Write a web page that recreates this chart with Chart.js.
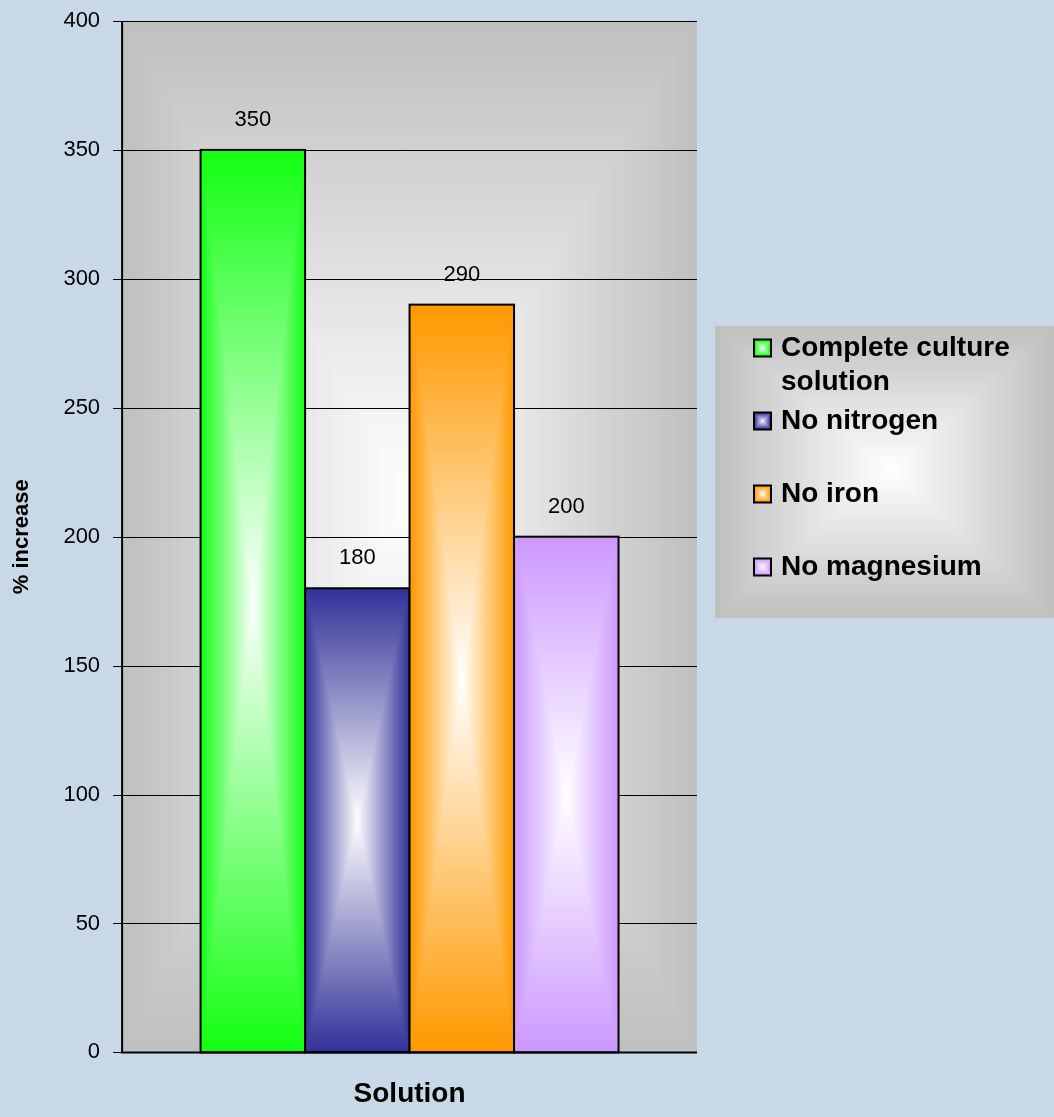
<!DOCTYPE html>
<html>
<head>
<meta charset="utf-8">
<script src="https://cdn.jsdelivr.net/npm/chart.js@4.4.0/dist/chart.umd.min.js"></script>
<style>
  html, body { margin: 0; padding: 0; background: #c8d8e6; }
  #wrap { width: 1054px; height: 1117px; }
</style>
</head>
<body>
<div id="wrap"><canvas id="chart" width="1054" height="1117"></canvas></div>
<script>
// --- data ---
const seriesNames = ['Complete culture solution', 'No nitrogen', 'No iron', 'No magnesium'];
const seriesValues = [350, 180, 290, 200];
const seriesColors = ['#14ff14', '#333399', '#ff9900', '#cc99ff'];
const categories = [''];
const yTicks = [0, 50, 100, 150, 200, 250, 300, 350, 400];

// --- helpers ---
function hexToRgb(hex) {
    const n = parseInt(hex.slice(1), 16);
    return [(n >> 16) & 255, (n >> 8) & 255, n & 255];
}

// nested rectangles going from the outer colour at the edge to the inner colour at (cx, cy)
function centerGradient(ctx, left, top, right, bottom, cx, cy, outer, inner, steps) {
    const a = hexToRgb(outer), b = hexToRgb(inner);
    for (let k = 0; k <= steps; k++) {
        const t = k / steps;
        const c = a.map((v, i) => Math.round(v + (b[i] - v) * t));
        ctx.fillStyle = `rgb(${c[0]},${c[1]},${c[2]})`;
        const l = left + (cx - left) * t, r = right - (right - cx) * t;
        const tp = top + (cy - top) * t, bt = bottom - (bottom - cy) * t;
        ctx.fillRect(l, tp, Math.max(r - l, 0.5), Math.max(bt - tp, 0.5));
    }
}

const plotBackground = {
    id: 'plotBackground',
    beforeDatasetsDraw(chart) {
        const { ctx, chartArea: a } = chart;
        ctx.save();
        centerGradient(ctx, a.left, a.top, a.right, a.bottom,
            (a.left + a.right) / 2, a.top + (a.bottom - a.top) * 0.46, '#c0c0c0', '#ffffff', 40);
        // grid lines with their tick marks
        const y = chart.scales.y;
        ctx.strokeStyle = '#000';
        ctx.lineWidth = 1;
        yTicks.forEach(v => {
            const py = Math.round(y.getPixelForValue(v)) + 0.5;
            ctx.beginPath();
            ctx.moveTo(a.left - 9, py);
            ctx.lineTo(a.right, py);
            ctx.stroke();
        });
        ctx.restore();
    }
};

const barPaint = {
    id: 'barPaint',
    afterDatasetsDraw(chart) {
        const { ctx, chartArea: a } = chart;
        ctx.save();
        chart.data.datasets.forEach((ds, i) => {
            const bar = chart.getDatasetMeta(i).data[0];
            const left = bar.x - bar.width / 2, right = bar.x + bar.width / 2;
            const top = bar.y, bottom = bar.base;
            centerGradient(ctx, left, top, right, bottom, (left + right) / 2, (top + bottom) / 2,
                seriesColors[i], '#ffffff', 60);
            ctx.strokeStyle = '#000';
            ctx.lineWidth = 2;
            ctx.strokeRect(left, top, right - left, bottom - top);
            // value label
            ctx.fillStyle = '#000';
            ctx.font = '22px "Liberation Sans", Arial, sans-serif';
            ctx.textAlign = 'center';
            ctx.textBaseline = 'middle';
            ctx.fillText(String(ds.data[0]), bar.x, top - 30);
        });
        // axis lines
        ctx.strokeStyle = '#000';
        ctx.lineWidth = 2;
        ctx.beginPath();
        ctx.moveTo(a.left, a.top);
        ctx.lineTo(a.left, a.bottom);
        ctx.lineTo(a.right, a.bottom);
        ctx.stroke();
        ctx.restore();
    }
};

function wrapText(ctx, text, maxWidth) {
    const words = text.split(' ');
    const lines = [];
    let line = '';
    words.forEach(w => {
        const test = line ? line + ' ' + w : w;
        if (ctx.measureText(test).width > maxWidth && line) {
            lines.push(line);
            line = w;
        } else {
            line = test;
        }
    });
    lines.push(line);
    return lines;
}

const sideLegend = {
    id: 'sideLegend',
    afterDraw(chart) {
        const { ctx } = chart;
        const box = { left: 715, top: 326, right: 1054, bottom: 618 };
        ctx.save();
        centerGradient(ctx, box.left, box.top, box.right, box.bottom, 890, 470, '#c0c0c0', '#ffffff', 30);
        ctx.font = 'bold 28px "Liberation Sans", Arial, sans-serif';
        ctx.textBaseline = 'middle';
        ctx.textAlign = 'left';
        chart.data.datasets.forEach((ds, i) => {
            const yTop = 348 + i * 73;
            const mx = 754, size = 17;
            centerGradient(ctx, mx, yTop - size / 2, mx + size, yTop + size / 2,
                mx + size / 2, yTop, seriesColors[i], '#ffffff', 8);
            ctx.strokeStyle = '#000';
            ctx.lineWidth = 2;
            ctx.strokeRect(mx, yTop - size / 2, size, size);
            ctx.fillStyle = '#000';
            wrapText(ctx, ds.label, 255).forEach((ln, j) => {
                ctx.fillText(ln, 781, yTop + j * 34);
            });
        });
        ctx.restore();
    }
};

// --- chart ---
function createChart() {
    const ctx = document.getElementById('chart').getContext('2d');
    new Chart(ctx, {
        type: 'bar',
        data: {
            labels: categories,
            datasets: seriesNames.map((name, i) => ({
                label: name,
                data: [seriesValues[i]],
                backgroundColor: seriesColors[i],
                borderColor: '#000',
                borderWidth: 2,
                categoryPercentage: 0.727,
                barPercentage: 1.0
            }))
        },
        options: {
            responsive: false,
            animation: false,
            layout: { padding: { top: 21, right: 357, bottom: 6, left: 9 } },
            scales: {
                x: {
                    ticks: { display: false },
                    grid: { display: false },
                    border: { display: false },
                    title: {
                        display: true,
                        text: 'Solution',
                        color: '#000',
                        font: { family: '"Liberation Sans", Arial, sans-serif', size: 28, weight: 'bold' },
                        padding: { top: 17, bottom: 0 }
                    }
                },
                y: {
                    min: 0,
                    max: 400,
                    afterBuildTicks(scale) {
                        scale.ticks = yTicks.map(v => ({ value: v }));
                    },
                    ticks: {
                        color: '#000',
                        padding: 2,
                        font: { family: '"Liberation Sans", Arial, sans-serif', size: 22 }
                    },
                    grid: { display: false, tickLength: 20 },
                    border: { display: false },
                    title: {
                        display: true,
                        text: '% increase',
                        color: '#000',
                        font: { family: '"Liberation Sans", Arial, sans-serif', size: 22, weight: 'bold' },
                        padding: { top: 0, bottom: 26 }
                    }
                }
            },
            plugins: {
                legend: { display: false },
                tooltip: { enabled: false }
            }
        },
        plugins: [plotBackground, barPaint, sideLegend]
    });
}

createChart();
</script>
</body>
</html>
